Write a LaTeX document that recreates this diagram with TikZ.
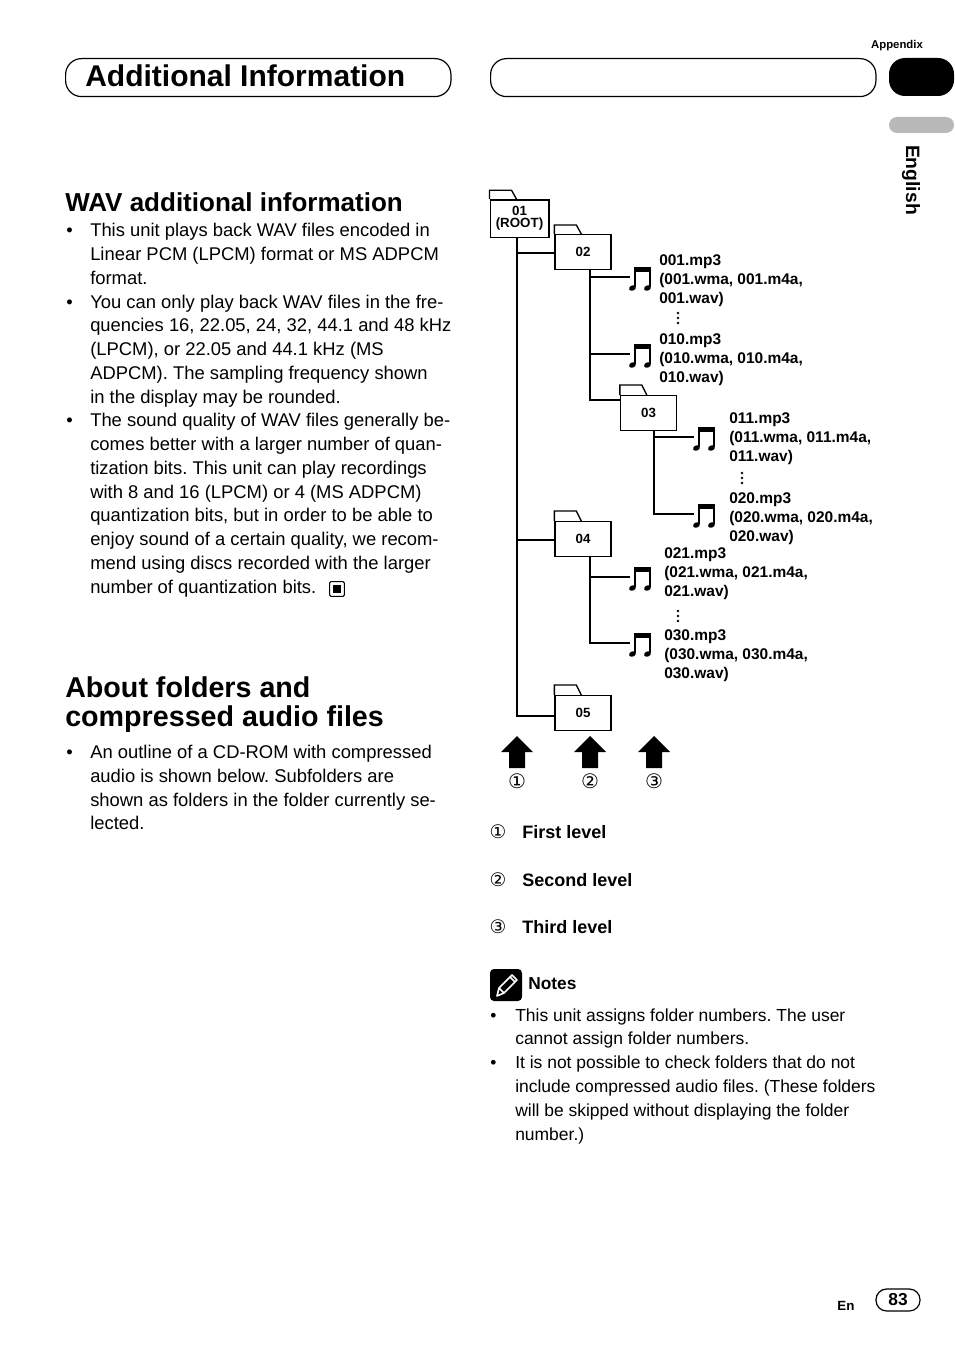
\documentclass[tikz,border=0pt]{standalone}
\usepackage{fontspec}
\setmainfont{Liberation Sans}
\newfontfamily\dvs{DejaVu Sans}
\begin{document}
\frenchspacing
\begin{tikzpicture}[x=0.75pt,y=-0.75pt,
  body/.style={anchor=base west,yshift=-3.7pt,inner sep=0,font=\fontsize{13.8}{15}\selectfont},
  nbody/.style={anchor=base west,yshift=-3.5pt,inner sep=0,font=\fontsize{13.1}{15}\selectfont},
  dtext/.style={anchor=west,inner sep=0,font=\fontsize{11.6}{14.2}\bfseries,align=left},
  folder/.style={draw,line width=1pt,fill=white,minimum width=42pt,minimum height=26pt,inner sep=0,font=\fontsize{10}{11}\bfseries},
  tree/.style={line width=2.2pt},
  bigarrow/.style={fill=black},
  frame/.style={draw,line width=0.9pt,rounded corners=12pt}]
\useasboundingbox (0,0) rectangle (954,1352);
% header
\node[frame,minimum width=289pt,minimum height=28.5pt,anchor=north west] (hdrA) at (65,58) {};
\node[anchor=west,inner sep=0,font=\fontsize{22.5}{24}\bfseries] (hdrT) at (85,76) {Additional Information};
\node[frame,minimum width=289pt,minimum height=28.5pt,anchor=north west] (hdrB) at (490,58) {};
\fill[rounded corners=12pt] (954,58) -- (889,58) -- (889,96) -- (954,96) -- cycle;
\node[inner sep=0,font=\fontsize{8.5}{9}\bfseries] (app) at (897,46) {Appendix};
\fill[gray!55,rounded corners=6pt] (954,117) -- (889,117) -- (889,133) -- (954,133) -- cycle;
\node[rotate=-90,inner sep=0,font=\fontsize{14.5}{15}\bfseries] (eng) at (911,180) {English};
% left column
\node[anchor=west,inner sep=0,font=\fontsize{19.5}{21}\bfseries] (h1) at (65,202) {WAV additional information};
\foreach \y/\t in {232/This unit plays back WAV files encoded in,256/Linear PCM (LPCM) format or MS ADPCM,280/format.,
304/You can only play back WAV files in the fre-,327/{quencies 16, 22.05, 24, 32, 44.1 and 48 kHz},351/{(LPCM), or 22.05 and 44.1 kHz (MS},375/ADPCM). The sampling frequency shown,399/in the display may be rounded.,
422/The sound quality of WAV files generally be-,446/comes better with a larger number of quan-,470/tization bits. This unit can play recordings,494/with 8 and 16 (LPCM) or 4 (MS ADPCM),517/{quantization bits, but in order to be able to},541/{enjoy sound of a certain quality, we recom-},565/mend using discs recorded with the larger,589/number of quantization bits.}
  \node[body] at (90,\y) {\t};
\foreach \y in {232,304,422} \node[body] at (66,\y) {•};
\node[draw,line width=0.8pt,minimum size=11pt,inner sep=0,rounded corners=1pt] (endm) at (337,589) {};
\fill (333,585) rectangle (341,593);
\node[anchor=west,inner sep=0,font=\fontsize{21.5}{23}\bfseries] (h2a) at (65,687) {About folders and};
\node[anchor=west,inner sep=0,font=\fontsize{21.5}{23}\bfseries] (h2b) at (65,719) {compressed audio files};
\foreach \y/\t in {754/An outline of a CD-ROM with compressed,778/audio is shown below. Subfolders are,802/shown as folders in the folder currently se-,825/lected.}
  \node[body] at (90,\y) {\t};
\node[body] at (66,754) {•};
% tree
\newcommand\fold[4]{%
  \node[folder] (#1) at (#2) {#3};
  \draw[line width=1pt] (#1.north west) -- ++(0,-#4) -- ++(22,0) -- ++(5,#4) ;}
\draw[tree] (517,237) -- (517,716) -- (555,716);
\draw[tree] (517,253) -- (555,253);
\draw[tree] (517,540) -- (555,540);
\draw[tree] (590,270) -- (590,400) -- (620,400);
\draw[tree] (590,277) -- (630,277);
\draw[tree] (590,354) -- (630,354);
\draw[tree] (654,431) -- (654,514) -- (694,514);
\draw[tree] (654,437) -- (694,437);
\draw[tree] (590,557) -- (590,643) -- (630,643);
\draw[tree] (590,577) -- (630,577);
\node[folder,minimum width=44pt,minimum height=28pt,align=center,font=\fontsize{10}{9}\bfseries] (f01) at (519.5,218.5) {01\\(ROOT)};
\draw[line width=1pt] (f01.north west) -- ++(0,-9) -- ++(22,0) -- ++(5,9);
\fold{f02}{583,252}{02}{9}
\fold{f03}{648.5,413}{03}{10}
\fold{f04}{583,539}{04}{10}
\fold{f05}{583,713}{05}{10}
\newcommand\mnote[2]{%
  \coordinate (#1) at (#2);
  \begin{scope}[shift={(#1)}]
   \fill (4,-12) rectangle (21,-7.5);
   \fill (4,-12) rectangle (6,8); \fill (19,-12) rectangle (21,8);
   \fill[rotate around={25:(2.5,9)}] (2.5,9) ellipse (3.6 and 2.6);
   \fill[rotate around={25:(17.5,9)}] (17.5,9) ellipse (3.6 and 2.6);
  \end{scope}}
\mnote{n1}{630,279}\mnote{n2}{630,356}\mnote{n3}{694,439}\mnote{n4}{694,516}\mnote{n5}{630,579}\mnote{n6}{630,645}
\node[dtext] (t1) at (659,281) {001.mp3\\(001.wma, 001.m4a,\\001.wav)};
\node[dtext] (t2) at (659,360) {010.mp3\\(010.wma, 010.m4a,\\010.wav)};
\node[dtext] (t3) at (729,439) {011.mp3\\(011.wma, 011.m4a,\\011.wav)};
\node[dtext] (t4) at (729,519) {020.mp3\\(020.wma, 020.m4a,\\020.wav)};
\node[dtext] (t5) at (664,574) {021.mp3\\(021.wma, 021.m4a,\\021.wav)};
\node[dtext] (t6) at (664,656) {030.mp3\\(030.wma, 030.m4a,\\030.wav)};
\foreach \n/\x/\y in {d1/678/318,d2/742/478,d3/678/616}{
  \coordinate (\n) at (\x,\y);
  \foreach \k in {-5,0,5} \fill ([yshift=-\k*0.75pt]\n) circle (1.1pt);}
% big arrows
\foreach \n/\x/\d in {a1/517/①,a2/590/②,a3/654/③}{
  \coordinate (\n) at (\x,768);
  \fill[bigarrow] (\n) ++(-8,0) -- ++(0,-16) -- ++(-8,0) -- ++(16,-16) -- ++(16,16) -- ++(-8,0) -- ++(0,16) -- cycle;
  \node[inner sep=0,font=\dvs\fontsize{15}{16}\selectfont\mdseries] (c\n) at (\x,781) {\d};}
% legend
\foreach \y/\d/\t in {832/①/First level,880/②/Second level,927/③/Third level}{
  \node[inner sep=0,font=\dvs\fontsize{14}{16}\selectfont] at (498,\y) {\d};
  \node[anchor=west,inner sep=0,font=\fontsize{13.5}{15}\bfseries] at (522,\y) {\t};}
% notes
\node[fill=black,rounded corners=3pt,minimum size=24pt,inner sep=0] (nicon) at (506,985) {};
\draw[white,line width=1.2pt,line join=round] (497,996) -- (499,988) -- (512,975) -- (517,980) -- (504,993) -- cycle (499,988) -- (504,993) (510,977) -- (515,982);
\node[anchor=west,inner sep=0,font=\fontsize{13}{14}\bfseries] (ntitle) at (528,984) {Notes};
\foreach \y/\t in {1017/This unit assigns folder numbers. The user,1040/cannot assign folder numbers.,1064/It is not possible to check folders that do not,1088/include compressed audio files. (These folders,1112/will be skipped without displaying the folder,1136/number.)}
  \node[nbody] at (515,\y) {\t};
\foreach \y in {1017,1064} \node[nbody] at (490,\y) {•};
% footer
\node[inner sep=0,font=\fontsize{10}{11}\bfseries] (en) at (846,1306) {En};
\node[draw,line width=0.9pt,rounded corners=8pt,minimum width=33pt,minimum height=16.5pt,inner sep=0,font=\fontsize{13}{14}\bfseries] (pg) at (898,1300) {83};
\end{tikzpicture}
\end{document}
